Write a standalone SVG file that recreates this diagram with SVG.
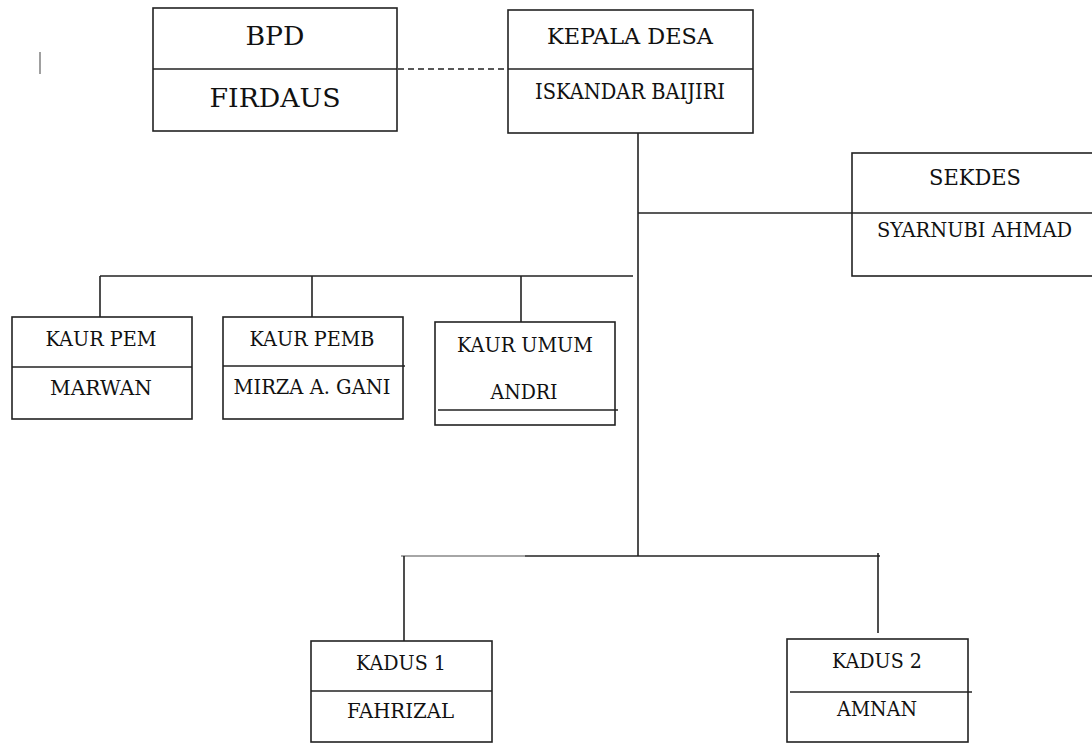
<svg xmlns="http://www.w3.org/2000/svg" width="1092" height="743" viewBox="0 0 1092 743">
<style>
.box{fill:#fff;stroke:#222;stroke-width:1.6}
.ln{stroke:#222;stroke-width:1.6;fill:none}
.gl{stroke:#888;stroke-width:1.6;fill:none}
.t{fill:#111;text-anchor:middle}
.big{font-size:26px}
.mid{font-size:23px}
.sm{font-size:21px}
</style>
<rect width="1092" height="743" fill="#fff"/>
<line class="gl" x1="40" y1="52" x2="40" y2="74"/>
<g id="connectors">
<line class="ln" x1="398" y1="69" x2="508" y2="69" stroke-dasharray="6 4"/>
<line class="ln" x1="638" y1="133" x2="638" y2="556"/>
<line class="ln" x1="638" y1="213" x2="852" y2="213"/>
<line class="ln" x1="100" y1="276" x2="633" y2="276"/>
<line class="ln" x1="100" y1="276" x2="100" y2="317"/>
<line class="ln" x1="312" y1="276" x2="312" y2="323"/>
<line class="ln" x1="521" y1="276" x2="521" y2="322"/>
<line class="gl" x1="401" y1="556" x2="525" y2="556"/>
<line class="ln" x1="525" y1="556" x2="880" y2="556"/>
<line class="ln" x1="404" y1="556" x2="404" y2="641"/>
<line class="ln" x1="878" y1="553" x2="878" y2="633"/>
</g>
<g font-family="'DejaVu Serif', 'Liberation Serif', serif">
<g id="bpd">
<rect class="box" x="153" y="8" width="244" height="123"/>
<line class="ln" x1="153" y1="69" x2="397" y2="69"/>
<text class="t big" x="275" y="45" textLength="59" lengthAdjust="spacingAndGlyphs">BPD</text>
<text class="t big" x="275" y="107" textLength="131" lengthAdjust="spacingAndGlyphs">FIRDAUS</text>
</g>
<g id="kepala-desa">
<rect class="box" x="508" y="10" width="245" height="123"/>
<line class="ln" x1="508" y1="69" x2="753" y2="69"/>
<text class="t mid" x="630" y="44" textLength="166" lengthAdjust="spacingAndGlyphs">KEPALA DESA</text>
<text class="t" font-size="22" x="630" y="99" textLength="190" lengthAdjust="spacingAndGlyphs">ISKANDAR BAIJIRI</text>
</g>
<g id="sekdes">
<rect class="box" x="852" y="153" width="260" height="123"/>
<line class="ln" x1="852" y1="213" x2="1092" y2="213"/>
<text class="t mid" x="975" y="185" textLength="92" lengthAdjust="spacingAndGlyphs">SEKDES</text>
<text class="t sm" x="974.5" y="237" textLength="195" lengthAdjust="spacingAndGlyphs">SYARNUBI AHMAD</text>
</g>
<g id="kaur-pem">
<rect class="box" x="12" y="317" width="180" height="102"/>
<line class="ln" x1="12" y1="367" x2="192" y2="367"/>
<text class="t sm" x="101" y="346" textLength="111" lengthAdjust="spacingAndGlyphs">KAUR PEM</text>
<text class="t sm" x="101" y="395" textLength="102" lengthAdjust="spacingAndGlyphs">MARWAN</text>
</g>
<g id="kaur-pemb">
<rect class="box" x="223" y="317" width="180" height="102"/>
<line class="ln" x1="223" y1="366" x2="405" y2="366"/>
<text class="t sm" x="312" y="346" textLength="125" lengthAdjust="spacingAndGlyphs">KAUR PEMB</text>
<text class="t sm" x="312" y="394" textLength="157" lengthAdjust="spacingAndGlyphs">MIRZA A. GANI</text>
</g>
<g id="kaur-umum">
<rect class="box" x="435" y="322" width="180" height="103"/>
<line class="ln" x1="438" y1="410" x2="618" y2="410"/>
<text class="t sm" x="525" y="352" textLength="136" lengthAdjust="spacingAndGlyphs">KAUR UMUM</text>
<text class="t sm" x="524" y="399" textLength="67" lengthAdjust="spacingAndGlyphs">ANDRI</text>
</g>
<g id="kadus-1">
<rect class="box" x="311" y="641" width="181" height="101"/>
<line class="ln" x1="311" y1="691" x2="492" y2="691"/>
<text class="t sm" x="401" y="670" textLength="90" lengthAdjust="spacingAndGlyphs">KADUS 1</text>
<text class="t sm" x="400.5" y="718" textLength="107" lengthAdjust="spacingAndGlyphs">FAHRIZAL</text>
</g>
<g id="kadus-2">
<rect class="box" x="787" y="639" width="181" height="103"/>
<line class="ln" x1="790" y1="692" x2="972" y2="692"/>
<text class="t sm" x="877" y="668" textLength="90" lengthAdjust="spacingAndGlyphs">KADUS 2</text>
<text class="t sm" x="877" y="716" textLength="80" lengthAdjust="spacingAndGlyphs">AMNAN</text>
</g>
</g>
</svg>
